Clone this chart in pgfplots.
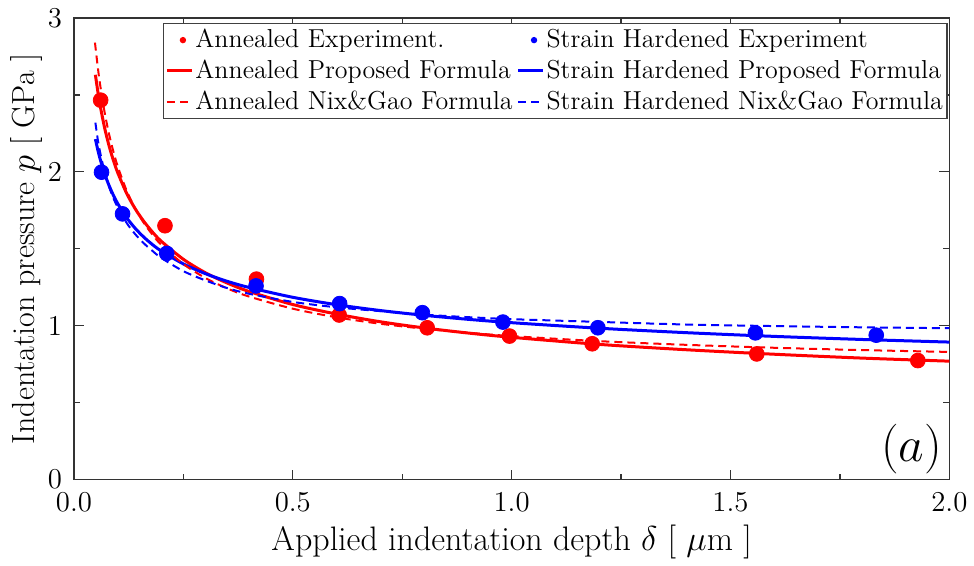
\documentclass[border=0pt]{standalone}
\usepackage{pgfplots}
\pgfplotsset{compat=1.18}
\begin{document}
\begin{tikzpicture}
\begin{axis}[
  scale only axis, width=438pt, height=231pt,
  xmin=0, xmax=2, ymin=0, ymax=3,
  xtick={0,0.5,1,1.5,2}, ytick={0,1,2,3},
  minor x tick num=1, minor y tick num=1,
  xtick pos=both, ytick pos=both, tick align=inside,
  major tick length=5pt, minor tick length=3pt,
  axis line style={draw=black!80, line width=0.75pt},
  every tick/.style={black!80, line width=0.6pt},
  tick label style={font=\fontsize{13.5}{16}\selectfont},
  xticklabel style={yshift=-3pt, /pgf/number format/.cd, fixed, fixed zerofill, precision=1},
  yticklabel style={xshift=-2.5pt},
  xlabel={Applied indentation depth $\delta$ [ $\mu$m ]},
  ylabel={Indentation pressure $p$ [ GPa ]},
  every axis x label/.style={at={(axis description cs:0.5,-0.134)}, anchor=center, font=\fontsize{17}{20}\selectfont},
  every axis y label/.style={at={(axis description cs:-0.054,0.5)}, rotate=90, anchor=center, font=\fontsize{16}{19}\selectfont},
  legend columns=2, legend cell align=left,
  legend style={at={(rel axis cs:0.998,0.99)}, anchor=north east,
    font=\fontsize{13}{15.5}\selectfont, draw=black!75, line width=0.75pt,
    inner xsep=1pt, inner ysep=2pt, row sep=2.6pt,
    nodes={inner xsep=1pt, inner ysep=1pt},
    /tikz/every even column/.append style={column sep=1pt}},
  legend image code/.code={\draw[#1] (0pt,0pt) -- (12.5pt,0pt);},
]
% Experiments
\addplot[only marks, mark=*, mark size=3.7pt, color=red,
  legend image code/.code={\fill[red] (8pt,0pt) circle (1.2pt);}]
  coordinates {(0.061,2.466) (0.208,1.650) (0.417,1.303) (0.606,1.070) (0.807,0.987) (0.995,0.933) (1.184,0.883) (1.560,0.817) (1.928,0.774)};
\addlegendentry{Annealed Experiment.}
\addplot[only marks, mark=*, mark size=3.7pt, color=blue,
  legend image code/.code={\fill[blue] (8pt,0pt) circle (1.2pt);}]
  coordinates {(0.063,1.998) (0.111,1.727) (0.212,1.470) (0.416,1.259) (0.607,1.144) (0.796,1.085) (0.980,1.024) (1.197,0.987) (1.557,0.954) (1.833,0.939)};
\addlegendentry{Strain Hardened Experiment}
% Proposed formula
\addplot[red, line width=1.5pt, smooth, no marks] coordinates {
(0.049,2.631) (0.055,2.514) (0.06,2.429) (0.07,2.287) (0.08,2.172) (0.09,2.076) (0.1,1.995) (0.12,1.863) (0.14,1.760) (0.16,1.677) (0.18,1.607) (0.2,1.548) (0.25,1.432) (0.3,1.345) (0.35,1.278) (0.4,1.223) (0.5,1.138) (0.6,1.076) (0.7,1.026) (0.8,0.986) (0.9,0.953) (1.0,0.925) (1.2,0.879) (1.4,0.844) (1.6,0.815) (1.8,0.790) (2.0,0.770)};
\addlegendentry{Annealed Proposed Formula}
\addplot[blue, line width=1.5pt, smooth, no marks] coordinates {
(0.049,2.213) (0.055,2.137) (0.06,2.082) (0.07,1.989) (0.08,1.913) (0.09,1.849) (0.1,1.794) (0.12,1.704) (0.14,1.633) (0.16,1.575) (0.18,1.526) (0.2,1.485) (0.25,1.402) (0.3,1.339) (0.35,1.289) (0.4,1.249) (0.5,1.185) (0.6,1.137) (0.7,1.099) (0.8,1.068) (0.9,1.042) (1.0,1.020) (1.2,0.984) (1.4,0.955) (1.6,0.931) (1.8,0.911) (2.0,0.894)};
\addlegendentry{Strain Hardened Proposed Formula}
% Nix & Gao formula
\addplot[red, line width=1pt, dash pattern=on 4pt off 2.5pt, smooth, no marks] coordinates {
(0.048,2.840) (0.055,2.668) (0.06,2.563) (0.07,2.388) (0.08,2.248) (0.09,2.133) (0.1,2.036) (0.12,1.881) (0.14,1.762) (0.16,1.667) (0.18,1.590) (0.2,1.525) (0.25,1.401) (0.3,1.311) (0.35,1.243) (0.4,1.190) (0.5,1.111) (0.6,1.055) (0.7,1.013) (0.8,0.981) (0.9,0.955) (1.0,0.933) (1.2,0.900) (1.4,0.876) (1.6,0.857) (1.8,0.842) (2.0,0.830)};
\addlegendentry{Annealed Nix\&Gao Formula}
\addplot[blue, line width=1pt, dash pattern=on 4pt off 2.5pt, smooth, no marks] coordinates {
(0.049,2.320) (0.055,2.200) (0.06,2.125) (0.07,2.000) (0.08,1.905) (0.09,1.830) (0.1,1.770) (0.12,1.670) (0.14,1.595) (0.16,1.535) (0.18,1.485) (0.2,1.440) (0.25,1.355) (0.3,1.295) (0.35,1.245) (0.4,1.208) (0.5,1.155) (0.6,1.120) (0.7,1.095) (0.8,1.072) (0.9,1.056) (1.0,1.043) (1.2,1.025) (1.4,1.008) (1.6,0.998) (1.8,0.990) (2.0,0.984)};
\addlegendentry{Strain Hardened Nix\&Gao Formula}
\node[anchor=south east, inner sep=0pt, font=\fontsize{23}{27}\selectfont] at (rel axis cs:0.992,0.012) {$(a)$};
\end{axis}
\path (current axis.south west) +(-37pt,-42.5pt) (current axis.north east) +(12pt,9pt);
\end{tikzpicture}
\end{document}
